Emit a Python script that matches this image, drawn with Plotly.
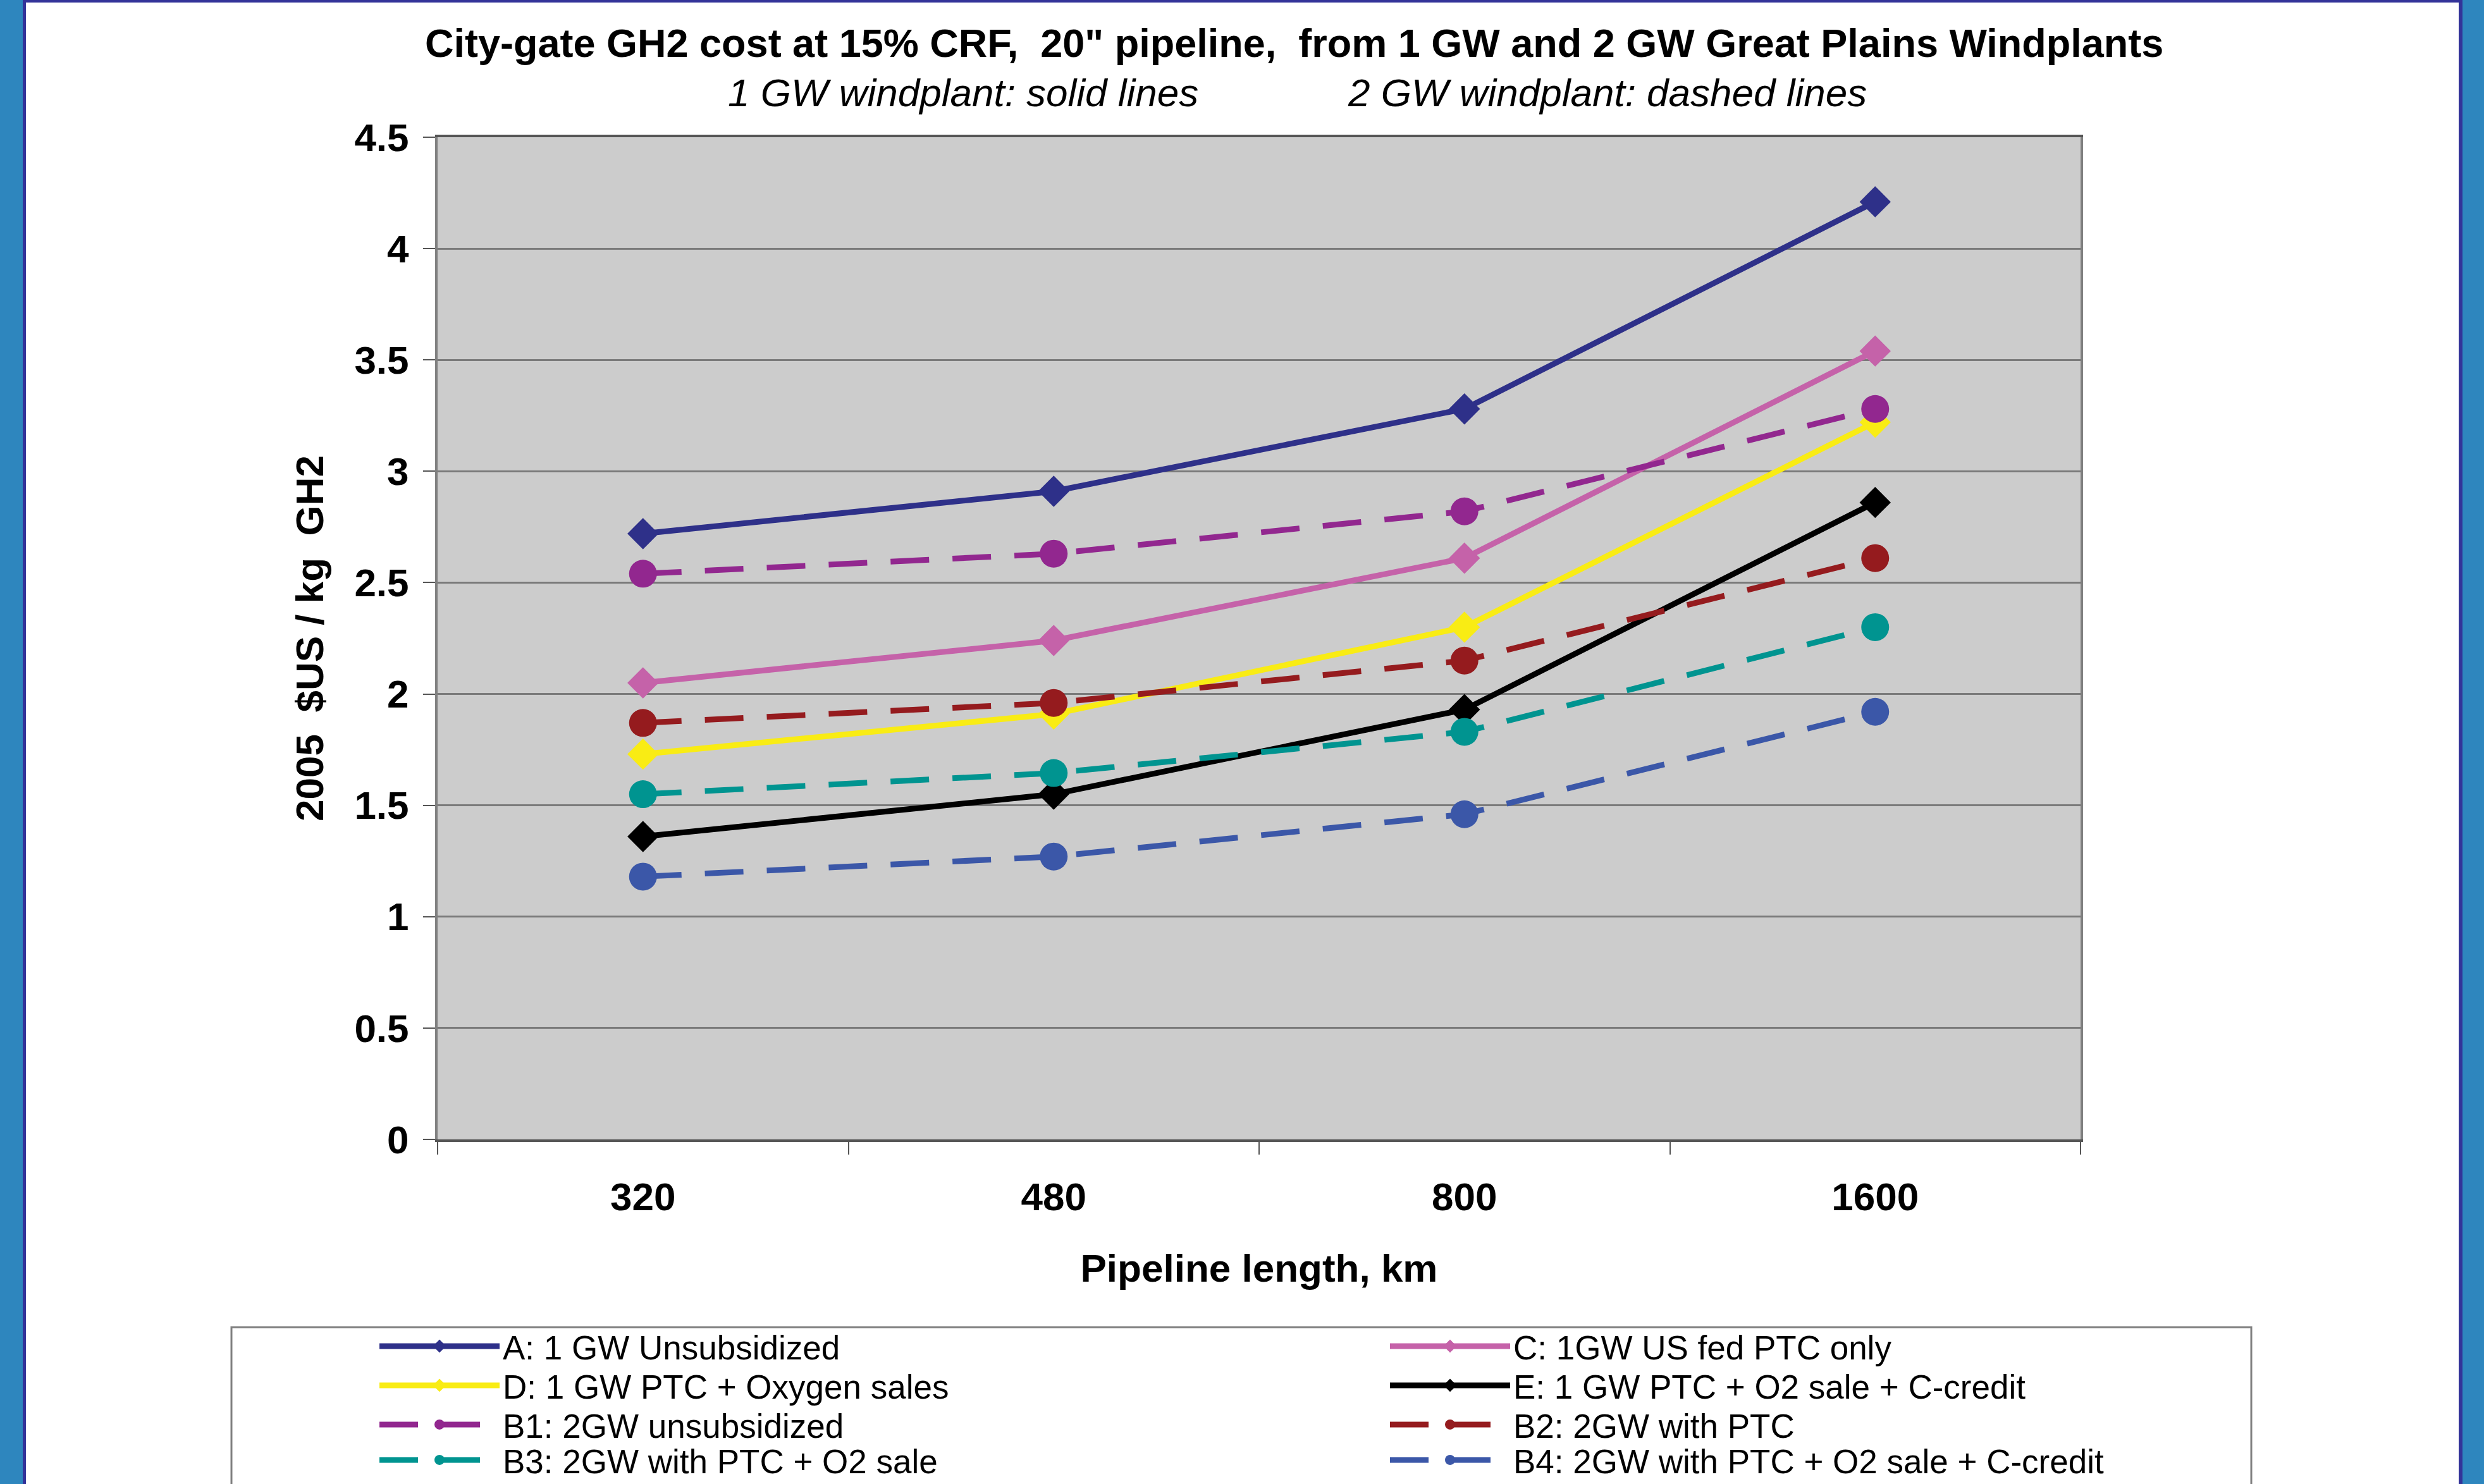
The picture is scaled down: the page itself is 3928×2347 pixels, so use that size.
import plotly.graph_objects as go

# ---- data ----
lengths = ["320", "480", "800", "1600"]
a_1gw_unsub = [2.72, 2.91, 3.28, 4.21]
c_1gw_ptc = [2.05, 2.24, 2.61, 3.54]
d_1gw_ptc_o2 = [1.73, 1.91, 2.30, 3.22]
e_1gw_ptc_o2_cc = [1.36, 1.55, 1.93, 2.86]
b1_2gw_unsub = [2.54, 2.63, 2.82, 3.28]
b2_2gw_ptc = [1.87, 1.96, 2.15, 2.61]
b3_2gw_ptc_o2 = [1.55, 1.645, 1.83, 2.30]
b4_2gw_ptc_o2_cc = [1.18, 1.27, 1.46, 1.92]

series_names = [
    "A: 1 GW Unsubsidized",
    "C: 1GW US fed PTC only",
    "D: 1 GW PTC + Oxygen sales",
    "E: 1 GW PTC + O2 sale + C-credit",
    "B1: 2GW unsubsidized",
    "B2: 2GW with PTC",
    "B3: 2GW with PTC + O2 sale",
    "B4: 2GW with PTC + O2 sale + C-credit",
]
series_values = [a_1gw_unsub, c_1gw_ptc, d_1gw_ptc_o2, e_1gw_ptc_o2_cc,
                 b1_2gw_unsub, b2_2gw_ptc, b3_2gw_ptc_o2, b4_2gw_ptc_o2_cc]
y_ticks = [0, 0.5, 1, 1.5, 2, 2.5, 3, 3.5, 4, 4.5]

# ---- styles ----
colors = ["#2E3089", "#C562A9", "#F9EC14", "#000000",
          "#92278F", "#951B1E", "#009490", "#3B57A8"]
dashed = [False, False, False, False, True, True, True, True]
legend_rows = ["legend", "legend", "legend2", "legend2",
               "legend3", "legend3", "legend4", "legend4"]

W, H = 3928, 2347
L, R, T, B = 692, 3290, 217, 1802

def px(X):
    return (X - L) / (R - L)

def py(Y):
    return (B - Y) / (B - T)

FONT = "Liberation Sans, Arial, sans-serif"

fig = go.Figure()
for name, vals, col, dsh, lg in zip(series_names, series_values, colors, dashed, legend_rows):
    fig.add_trace(go.Scatter(
        x=lengths, y=vals, name=name, mode="lines+markers", legend=lg,
        line=dict(color=col, width=9, dash="61px,37px" if dsh else "solid"),
        marker=dict(symbol="circle" if dsh else "diamond",
                    size=44 if dsh else 38, color=col,
                    line=dict(width=0)),
    ))

shapes = [
    # outer frame decoration
    dict(type="rect", xref="paper", yref="paper", x0=px(0), x1=px(36), y0=py(H), y1=py(0),
         fillcolor="#2E86BE", line_width=0, layer="below"),
    dict(type="rect", xref="paper", yref="paper", x0=px(36), x1=px(41), y0=py(H), y1=py(0),
         fillcolor="#333399", line_width=0, layer="below"),
    dict(type="rect", xref="paper", yref="paper", x0=px(3888), x1=px(3894), y0=py(H), y1=py(0),
         fillcolor="#333399", line_width=0, layer="below"),
    dict(type="rect", xref="paper", yref="paper", x0=px(3894), x1=px(W), y0=py(H), y1=py(0),
         fillcolor="#2E86BE", line_width=0, layer="below"),
    dict(type="rect", xref="paper", yref="paper", x0=px(36), x1=px(3894), y0=py(4), y1=py(0),
         fillcolor="#333399", line_width=0, layer="below"),
    # legend box
    dict(type="rect", xref="paper", yref="paper", x0=px(366), x1=px(3560), y0=py(H + 20), y1=py(2099),
         fillcolor="rgba(0,0,0,0)", line=dict(color="#808080", width=3), layer="below"),
]

annotations = [
    dict(text="City-gate GH2 cost at 15% CRF,\u00a0 20\" pipeline,\u00a0 from 1 GW and 2 GW Great Plains Windplants",
         xref="paper", yref="paper", x=px(2046), y=py(105), xanchor="center", yanchor="bottom",
         showarrow=False, font=dict(family=FONT, size=63, color="black", weight="bold")),
    dict(text="<i>1 GW windplant: solid lines</i>", xref="paper", yref="paper",
         x=px(1523), y=py(183), xanchor="center", yanchor="bottom", showarrow=False,
         font=dict(family=FONT, size=62, color="black")),
    dict(text="<i>2 GW windplant: dashed lines</i>", xref="paper", yref="paper",
         x=px(2541), y=py(183), xanchor="center", yanchor="bottom", showarrow=False,
         font=dict(family=FONT, size=62, color="black")),
]

def legend_row(top):
    return dict(orientation="h", x=px(595), y=py(top), xanchor="left", yanchor="top",
                bgcolor="rgba(0,0,0,0)", borderwidth=0,
                font=dict(family=FONT, size=53, color="black"),
                itemwidth=190, entrywidth=1393, entrywidthmode="pixels",
                traceorder="normal", itemclick=False, itemdoubleclick=False)

fig.update_layout(
    width=W, height=H,
    margin=dict(l=L, r=W - R, t=T, b=H - B, autoexpand=False),
    paper_bgcolor="white", plot_bgcolor="#CCCCCC",
    font=dict(family=FONT, color="black"),
    shapes=shapes, annotations=annotations,
    showlegend=True,
    legend=legend_row(2088),
    legend2=legend_row(2150),
    legend3=legend_row(2212),
    legend4=legend_row(2268),
    xaxis=dict(
        type="category", categoryorder="array", categoryarray=lengths,
        range=[-0.5, 3.5],
        showgrid=False, zeroline=False,
        showline=True, linecolor="#555555", linewidth=4, mirror=True,
        ticks="outside", tickson="boundaries", ticklen=20, tickwidth=2, tickcolor="#555555",
        ticklabelstandoff=34,
        tickfont=dict(family=FONT, size=62, color="black", weight="bold"),
        title=dict(text="Pipeline length, km", standoff=58,
                   font=dict(family=FONT, size=62, color="black", weight="bold")),
    ),
    yaxis=dict(
        range=[0, 4.5], tickvals=y_ticks, ticktext=[f"{v:g}" for v in y_ticks],
        showgrid=True, gridcolor="#7A7A7A", gridwidth=3, zeroline=False,
        showline=True, linecolor="#808080", linewidth=4, mirror=True,
        ticks="outside", ticklen=19, tickwidth=2, tickcolor="#555555",
        ticklabelstandoff=10,
        tickfont=dict(family=FONT, size=62, color="black", weight="bold"),
        title=dict(text="2005\u00a0 $US / kg\u00a0 GH2", standoff=30,
                   font=dict(family=FONT, size=62, color="black", weight="bold")),
    ),
)

fig.write_html("out.html", config={"displayModeBar": False},
               post_script="document.body.style.margin='0';")
